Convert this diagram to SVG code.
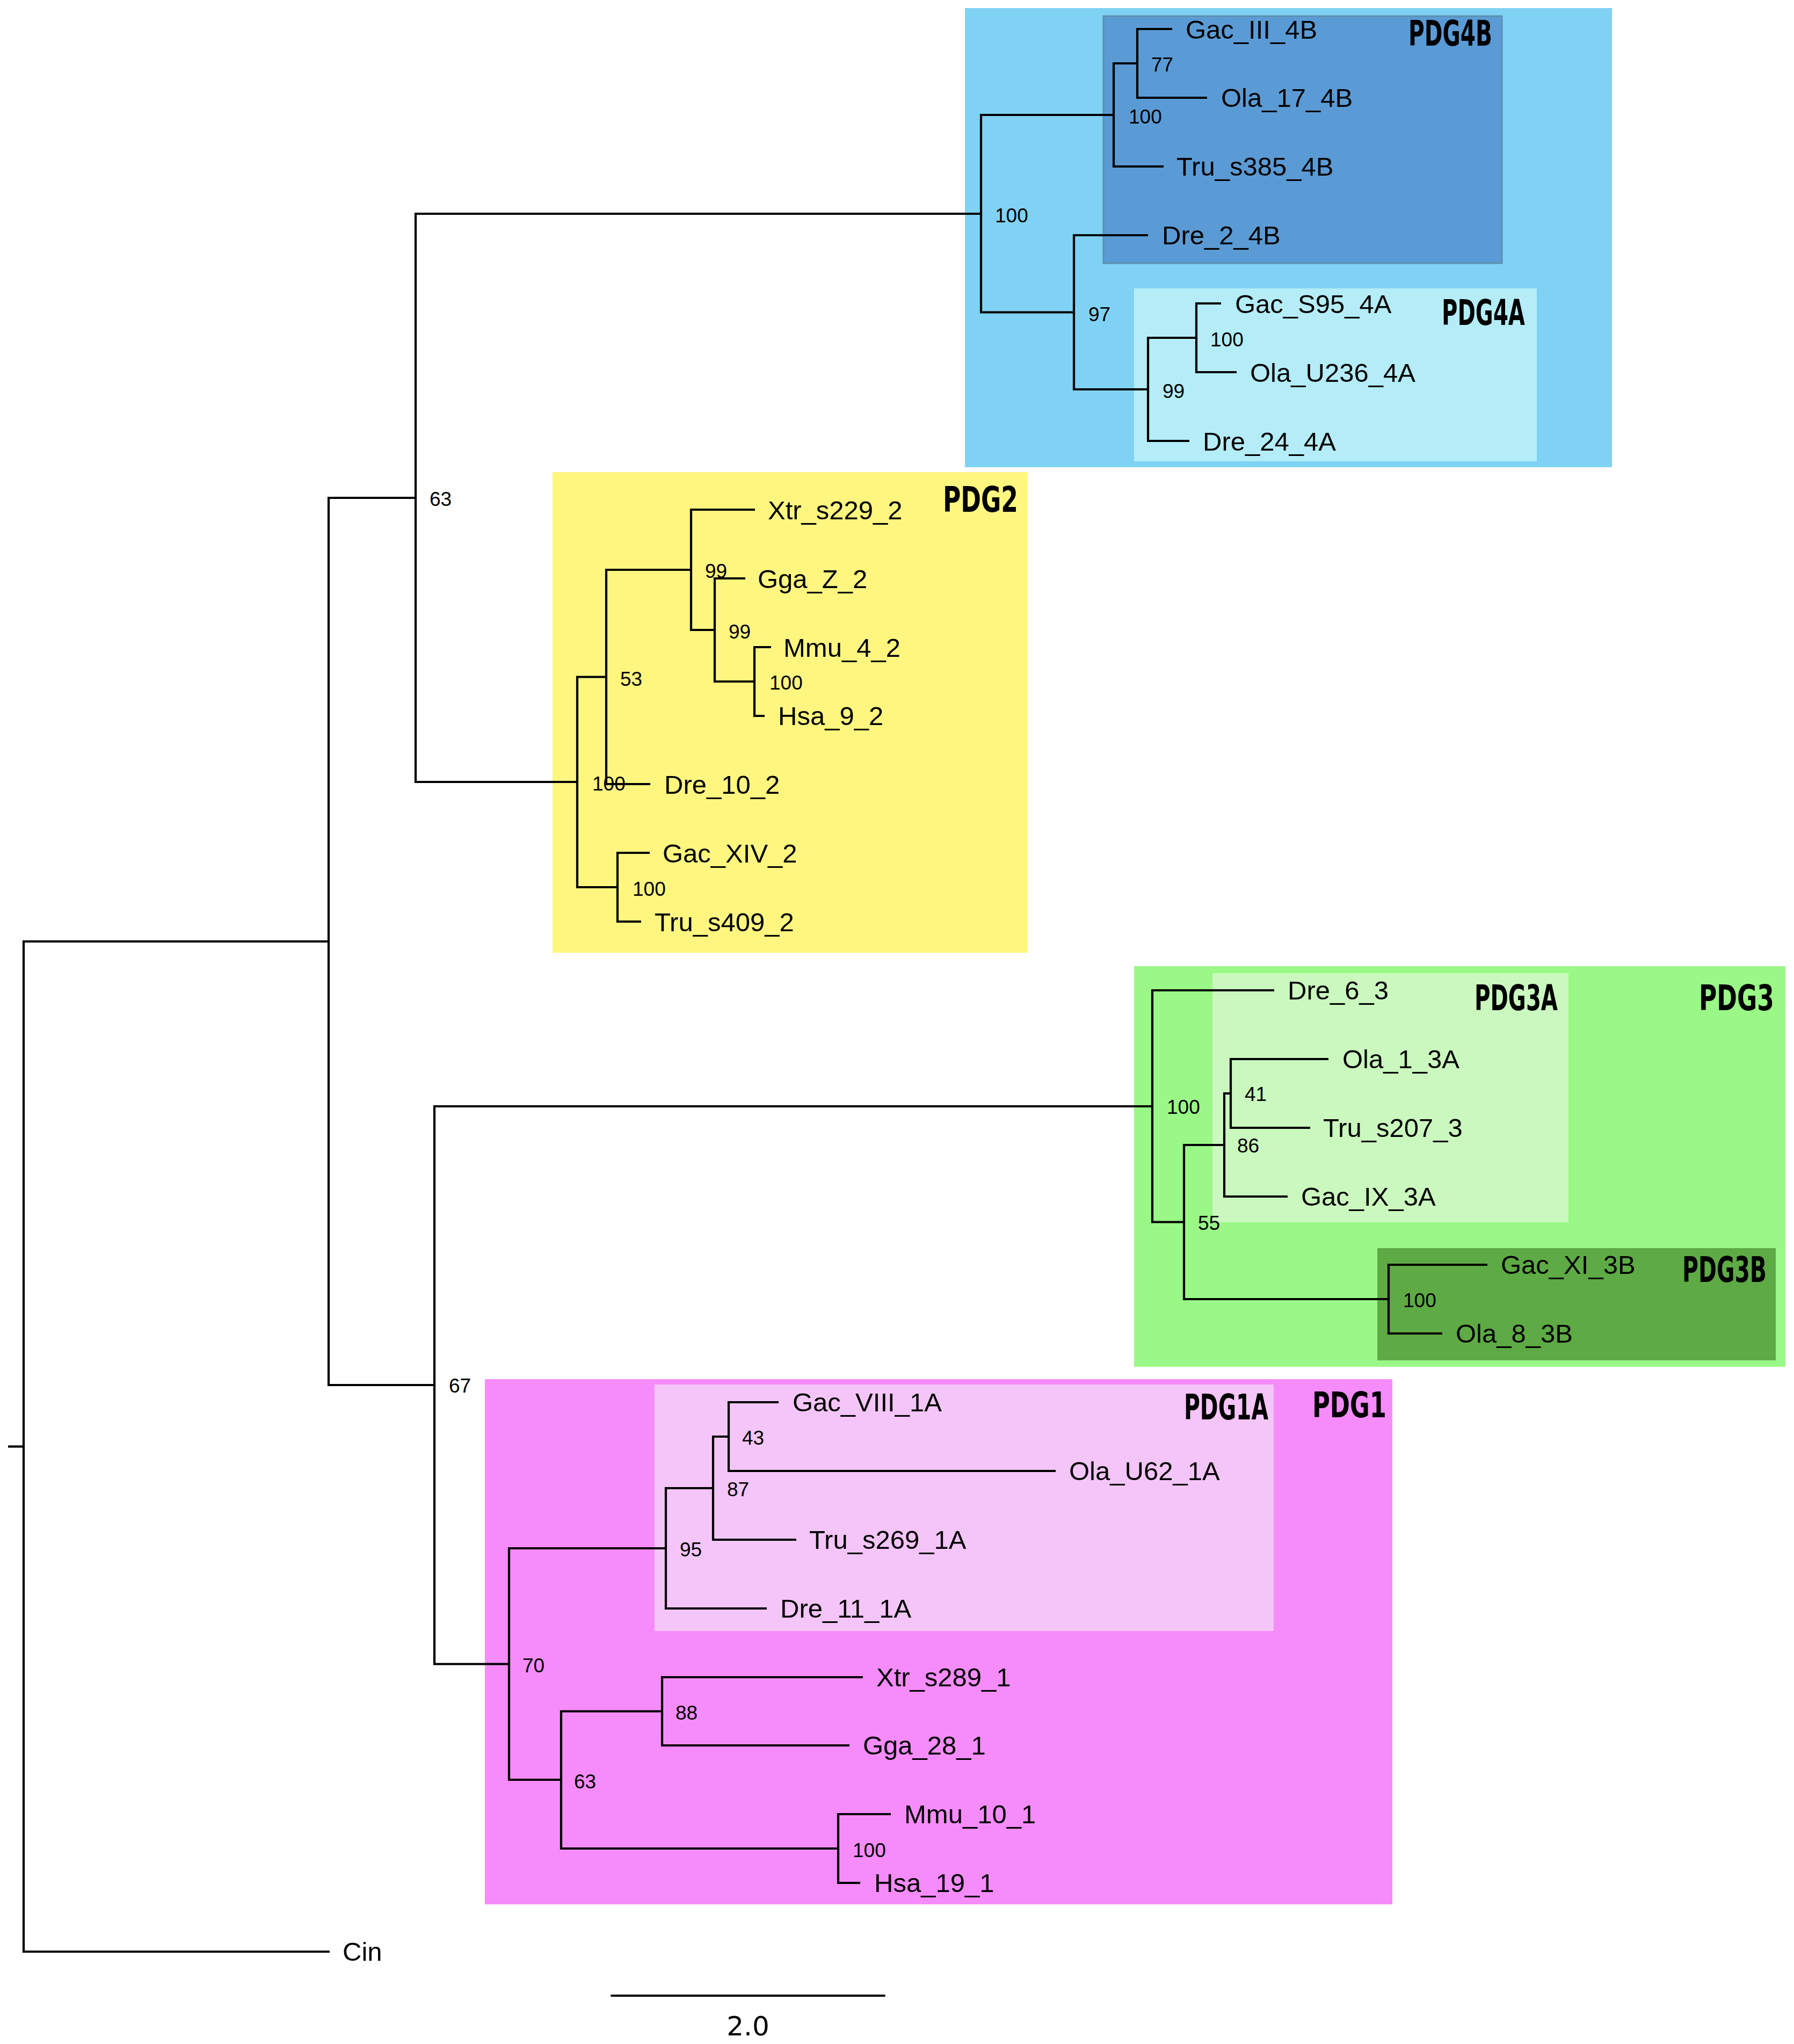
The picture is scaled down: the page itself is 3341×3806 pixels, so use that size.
<svg xmlns="http://www.w3.org/2000/svg" width="3341" height="3806" viewBox="0 0 3341 3806">
<style>
.br{fill:none;stroke:#000;stroke-width:4.2;stroke-linejoin:miter;stroke-linecap:butt}
.leaf{font-family:"Liberation Sans",Arial,sans-serif;font-size:49px;fill:#000}
.bs{font-family:"Liberation Sans",Arial,sans-serif;font-size:37px;fill:#000}
.grp{font-family:"DejaVu Sans Condensed","DejaVu Sans",sans-serif;font-stretch:condensed;font-weight:bold;font-size:66px;fill:#000;text-anchor:end}
</style>
<rect width="3341" height="3806" fill="#fff"/>
<g id="clades">
<g id="clade-PDG4"><rect x="1797" y="15" width="1205" height="855" fill="#80d2f4"/></g>
<g id="clade-PDG4B"><rect x="2055" y="30" width="742" height="460" fill="#5b9bd5" stroke="#5a8fae" stroke-width="3"/></g>
<g id="clade-PDG4A"><rect x="2112" y="537" width="750" height="322" fill="#b4edf8"/></g>
<g id="clade-PDG2"><rect x="1029" y="879" width="885" height="895" fill="#fff680"/></g>
<g id="clade-PDG3"><rect x="2112" y="1799" width="1213" height="746" fill="#9af886"/></g>
<g id="clade-PDG3A"><rect x="2258" y="1812" width="663" height="464" fill="#caf8be"/></g>
<g id="clade-PDG3B"><rect x="2565" y="2324" width="742" height="209" fill="#5eaa45"/></g>
<g id="clade-PDG1"><rect x="903" y="2568" width="1690" height="978" fill="#f58cfa"/></g>
<g id="clade-PDG1A"><rect x="1219" y="2578" width="1153" height="459" fill="#f4c5f8"/></g>
</g>
<g id="connectors">
<path class="br" d="M614,3634 H44 V1753 H612"/>
<path class="br" d="M15,2693.5 H44"/>
<path class="br" d="M774,927 H612 V2579 H809"/>
<path class="br" d="M1827,398 H774 V1456 H1075"/>
<path class="br" d="M2074,214 H1827 V581.5 H2000"/>
<path class="br" d="M2118,118 H2074 V310 H2167"/>
<path class="br" d="M2183,54 H2118 V182 H2248"/>
<path class="br" d="M2138,438 H2000 V725 H2138"/>
<path class="br" d="M2228,629 H2138 V821 H2215"/>
<path class="br" d="M2274,565 H2228 V693 H2303"/>
<path class="br" d="M1129,1260.5 H1075 V1652 H1150"/>
<path class="br" d="M1287,1061 H1129 V1460 H1211"/>
<path class="br" d="M1406,949 H1287 V1173 H1331"/>
<path class="br" d="M1388,1077 H1331 V1269 H1405"/>
<path class="br" d="M1436,1205 H1405 V1333 H1424"/>
<path class="br" d="M1210,1588 H1150 V1716 H1194"/>
<path class="br" d="M2146,2060 H809 V3098.5 H948"/>
<path class="br" d="M2373,1844 H2146 V2275.5 H2205"/>
<path class="br" d="M2280,2132 H2205 V2419 H2586"/>
<path class="br" d="M2292,2036 H2280 V2228 H2398"/>
<path class="br" d="M2474,1972 H2292 V2100 H2440"/>
<path class="br" d="M2770,2355 H2586 V2483 H2686"/>
<path class="br" d="M1240,2883 H948 V3314 H1045"/>
<path class="br" d="M1328,2771 H1240 V2995 H1428"/>
<path class="br" d="M1357,2675 H1328 V2867 H1483"/>
<path class="br" d="M1450,2611 H1357 V2739 H1966"/>
<path class="br" d="M1233,3186.5 H1045 V3442 H1561"/>
<path class="br" d="M1607,3123 H1233 V3250 H1582"/>
<path class="br" d="M1659,3378 H1561 V3506 H1602"/>
</g>
<g id="leaves">
<g id="leaf-Gac_III_4B"><text class="leaf" x="2208" y="72">Gac_III_4B</text></g>
<g id="leaf-Ola_17_4B"><text class="leaf" x="2274" y="199">Ola_17_4B</text></g>
<g id="leaf-Tru_s385_4B"><text class="leaf" x="2191" y="327">Tru_s385_4B</text></g>
<g id="leaf-Dre_2_4B"><text class="leaf" x="2164" y="455">Dre_2_4B</text></g>
<g id="leaf-Gac_S95_4A"><text class="leaf" x="2300" y="583">Gac_S95_4A</text></g>
<g id="leaf-Ola_U236_4A"><text class="leaf" x="2328" y="711">Ola_U236_4A</text></g>
<g id="leaf-Dre_24_4A"><text class="leaf" x="2240" y="839">Dre_24_4A</text></g>
<g id="leaf-Xtr_s229_2"><text class="leaf" x="1430" y="967">Xtr_s229_2</text></g>
<g id="leaf-Gga_Z_2"><text class="leaf" x="1411" y="1095">Gga_Z_2</text></g>
<g id="leaf-Mmu_4_2"><text class="leaf" x="1459" y="1223">Mmu_4_2</text></g>
<g id="leaf-Hsa_9_2"><text class="leaf" x="1449" y="1350">Hsa_9_2</text></g>
<g id="leaf-Dre_10_2"><text class="leaf" x="1237" y="1478">Dre_10_2</text></g>
<g id="leaf-Gac_XIV_2"><text class="leaf" x="1234" y="1606">Gac_XIV_2</text></g>
<g id="leaf-Tru_s409_2"><text class="leaf" x="1219" y="1734">Tru_s409_2</text></g>
<g id="leaf-Dre_6_3"><text class="leaf" x="2398" y="1861">Dre_6_3</text></g>
<g id="leaf-Ola_1_3A"><text class="leaf" x="2500" y="1989">Ola_1_3A</text></g>
<g id="leaf-Tru_s207_3"><text class="leaf" x="2464" y="2117">Tru_s207_3</text></g>
<g id="leaf-Gac_IX_3A"><text class="leaf" x="2423" y="2245">Gac_IX_3A</text></g>
<g id="leaf-Gac_XI_3B"><text class="leaf" x="2795" y="2372">Gac_XI_3B</text></g>
<g id="leaf-Ola_8_3B"><text class="leaf" x="2711" y="2500">Ola_8_3B</text></g>
<g id="leaf-Gac_VIII_1A"><text class="leaf" x="1476" y="2628">Gac_VIII_1A</text></g>
<g id="leaf-Ola_U62_1A"><text class="leaf" x="1991" y="2756">Ola_U62_1A</text></g>
<g id="leaf-Tru_s269_1A"><text class="leaf" x="1507" y="2884">Tru_s269_1A</text></g>
<g id="leaf-Dre_11_1A"><text class="leaf" x="1453" y="3012">Dre_11_1A</text></g>
<g id="leaf-Xtr_s289_1"><text class="leaf" x="1632" y="3140">Xtr_s289_1</text></g>
<g id="leaf-Gga_28_1"><text class="leaf" x="1607" y="3267">Gga_28_1</text></g>
<g id="leaf-Mmu_10_1"><text class="leaf" x="1684" y="3395">Mmu_10_1</text></g>
<g id="leaf-Hsa_19_1"><text class="leaf" x="1628" y="3523">Hsa_19_1</text></g>
<g id="leaf-Cin"><text class="leaf" x="638" y="3651">Cin</text></g>
</g>
<g id="support">
<g id="node-63a"><text class="bs" x="800" y="942">63</text></g>
<g id="node-100-PDG4"><text class="bs" x="1853" y="414">100</text></g>
<g id="node-100-PDG4B"><text class="bs" x="2102" y="230">100</text></g>
<g id="node-77"><text class="bs" x="2144" y="133">77</text></g>
<g id="node-97"><text class="bs" x="2027" y="598">97</text></g>
<g id="node-99-PDG4A"><text class="bs" x="2165" y="741">99</text></g>
<g id="node-100-PDG4A"><text class="bs" x="2254" y="645">100</text></g>
<g id="node-100-PDG2"><text class="bs" x="1103" y="1472">100</text></g>
<g id="node-53"><text class="bs" x="1155" y="1277">53</text></g>
<g id="node-99a"><text class="bs" x="1313" y="1076">99</text></g>
<g id="node-99b"><text class="bs" x="1357" y="1189">99</text></g>
<g id="node-100-mammal2"><text class="bs" x="1433" y="1284">100</text></g>
<g id="node-100-fish2"><text class="bs" x="1178" y="1668">100</text></g>
<g id="node-67"><text class="bs" x="836" y="2593">67</text></g>
<g id="node-100-PDG3"><text class="bs" x="2173" y="2074">100</text></g>
<g id="node-55"><text class="bs" x="2231" y="2290">55</text></g>
<g id="node-86"><text class="bs" x="2304" y="2146">86</text></g>
<g id="node-41"><text class="bs" x="2318" y="2050">41</text></g>
<g id="node-100-PDG3B"><text class="bs" x="2613" y="2434">100</text></g>
<g id="node-70"><text class="bs" x="973" y="3114">70</text></g>
<g id="node-95"><text class="bs" x="1266" y="2898">95</text></g>
<g id="node-87"><text class="bs" x="1354" y="2786">87</text></g>
<g id="node-43"><text class="bs" x="1382" y="2690">43</text></g>
<g id="node-63b"><text class="bs" x="1069" y="3330">63</text></g>
<g id="node-88"><text class="bs" x="1258" y="3202">88</text></g>
<g id="node-100-mammal1"><text class="bs" x="1588" y="3458">100</text></g>
</g>
<g id="group-labels">
<text class="grp" x="2779" y="85" textLength="156" lengthAdjust="spacingAndGlyphs">PDG4B</text>
<text class="grp" x="2840" y="605" textLength="155" lengthAdjust="spacingAndGlyphs">PDG4A</text>
<text class="grp" x="1896" y="953" textLength="140" lengthAdjust="spacingAndGlyphs">PDG2</text>
<text class="grp" x="2901" y="1881" textLength="155" lengthAdjust="spacingAndGlyphs">PDG3A</text>
<text class="grp" x="3304" y="1881" textLength="140" lengthAdjust="spacingAndGlyphs">PDG3</text>
<text class="grp" x="3290" y="2387" textLength="157" lengthAdjust="spacingAndGlyphs">PDG3B</text>
<text class="grp" x="2362" y="2643" textLength="157" lengthAdjust="spacingAndGlyphs">PDG1A</text>
<text class="grp" x="2582" y="2639" textLength="138" lengthAdjust="spacingAndGlyphs">PDG1</text>
</g>
<g id="scale-bar">
<path d="M1139,3716 H1647" fill="none" stroke="#000" stroke-width="4" stroke-linecap="round"/>
<text x="1393" y="3790" text-anchor="middle" font-family="DejaVu Sans, sans-serif" font-size="50">2.0</text>
</g>
</svg>
